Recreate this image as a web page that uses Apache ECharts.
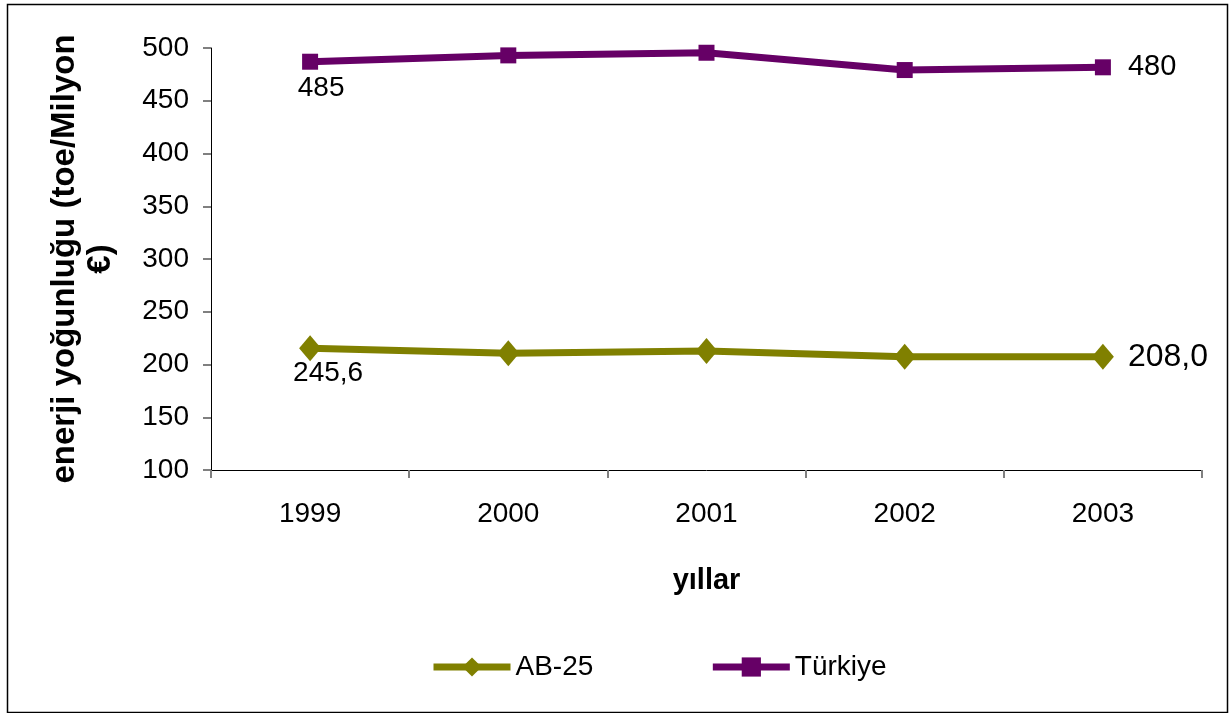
<!DOCTYPE html>
<html>
<head>
<meta charset="utf-8">
<script src="https://cdn.jsdelivr.net/npm/echarts@6/dist/echarts.min.js"></script>
<style>
html,body{margin:0;padding:0;background:#fff;}
#chart{width:1231px;height:713px;}
</style>
</head>
<body>
<div id="chart"></div>
<script>
const categories = ['1999', '2000', '2001', '2002', '2003'];
const abValues = [215.4, 210.6, 212.8, 207.4, 207.4];
const trValues = [487, 493, 495.5, 479.1, 481.7];
const abLabels = ['245,6', '', '', '', '208,0'];
const trLabels = ['485', '', '', '', '480'];
const yTicks = { min: 100, max: 500, interval: 50 };

const FONT = '"Liberation Sans", Arial, sans-serif';

function buildData(values, labels, firstLabel, lastLabel) {
  return values.map((v, i) => {
    const item = { value: v };
    if (labels[i]) {
      item.label = Object.assign({ show: true, formatter: labels[i] }, i === 0 ? firstLabel : lastLabel);
    }
    return item;
  });
}

const chart = echarts.init(document.getElementById('chart'), null, { renderer: 'canvas' });

const option = {
  animation: false,
  backgroundColor: '#fff',
  textStyle: { fontFamily: FONT },
  grid: { left: 211, right: 29, top: 48, bottom: 243, containLabel: false },
  legend: {
    top: 648,
    left: 425,
    itemWidth: 77,
    itemHeight: 24,
    itemGap: 116,
    textStyle: { fontFamily: FONT, fontSize: 28, color: '#000' },
    data: [
      { name: 'AB-25', lineStyle: { width: 7 } },
      { name: 'Türkiye', lineStyle: { width: 7 } }
    ]
  },
  xAxis: {
    type: 'category',
    data: categories,
    boundaryGap: true,
    name: 'yıllar',
    nameLocation: 'middle',
    nameGap: 96,
    nameTextStyle: { fontFamily: FONT, fontSize: 29, fontWeight: 'bold', color: '#000' },
    axisLine: { show: true, lineStyle: { color: '#000', width: 1 } },
    axisTick: { show: true, alignWithLabel: false, interval: 0, length: 8, lineStyle: { color: '#808080', width: 2 } },
    axisLabel: { fontFamily: FONT, fontSize: 28, color: '#000', margin: 30 },
    splitLine: { show: false }
  },
  yAxis: {
    type: 'value',
    min: yTicks.min,
    max: yTicks.max,
    interval: yTicks.interval,
    name: 'enerji yoğunluğu (toe/Milyon\n€)',
    nameLocation: 'middle',
    nameGap: 92,
    nameTextStyle: { fontFamily: FONT, fontSize: 33, fontWeight: 'bold', color: '#000', lineHeight: 36 },
    axisLine: { show: true, lineStyle: { color: '#000', width: 1 } },
    axisTick: { show: true, length: 8, lineStyle: { color: '#808080', width: 2 } },
    axisLabel: { fontFamily: FONT, fontSize: 28, color: '#000', margin: 22 },
    splitLine: { show: false }
  },
  series: [
    {
      name: 'AB-25',
      type: 'line',
      symbol: 'diamond',
      symbolSize: [22, 26],
      itemStyle: { color: '#808000' },
      lineStyle: { color: '#808000', width: 7 },
      data: buildData(abValues, abLabels,
        { position: 'bottom', distance: -2, offset: [18, 0], fontSize: 28, color: '#000', fontFamily: FONT },
        { position: 'right', distance: 14, fontSize: 32, color: '#000', fontFamily: FONT })
    },
    {
      name: 'Türkiye',
      type: 'line',
      symbol: 'rect',
      symbolSize: 16,
      itemStyle: { color: '#660066' },
      lineStyle: { color: '#660066', width: 7 },
      data: buildData(trValues, trLabels,
        { position: 'bottom', distance: 4, offset: [11, 1], fontSize: 28, color: '#000', fontFamily: FONT },
        { position: 'right', distance: 17, fontSize: 29, color: '#000', fontFamily: FONT })
    }
  ],
  graphic: [
    {
      type: 'rect',
      left: 5, top: 2,
      shape: { width: 1220, height: 708 },
      style: { fill: 'none', stroke: '#000', lineWidth: 1.5 },
      silent: true
    }
  ]
};

chart.setOption(option);
</script>
</body>
</html>
